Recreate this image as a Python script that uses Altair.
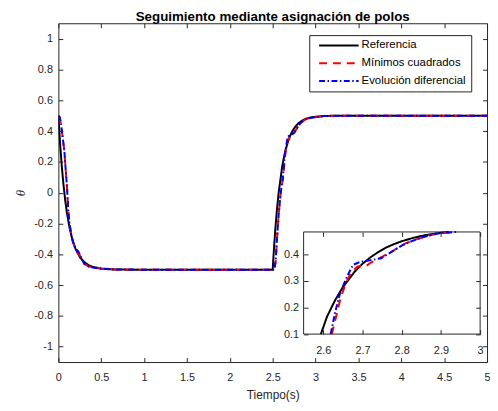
import altair as alt
import pandas as pd

TITLE = "Seguimiento mediante asignación de polos"
names = ["Referencia", "Mínimos cuadrados", "Evolución diferencial"]
colors = ["#000000", "#ff0000", "#0000ff"]
dashes = [[1, 0], [8, 6], [6, 2.5, 1.5, 2.5]]

# Referencia
t_ref = [0, 0.02, 0.04, 0.06, 0.08, 0.1, 0.13, 0.16, 0.2, 0.25, 0.3, 0.35, 0.4, 0.5, 0.6, 0.8, 1.0, 2.5,
         2.51, 2.53, 2.55, 2.57, 2.594, 2.61, 2.63, 2.65, 2.68, 2.7, 2.72, 2.74, 2.76, 2.78, 2.8, 2.83,
         2.86, 2.9, 2.92, 2.95, 3.0, 3.1, 3.3, 5.0]
v_ref = [0.5, 0.319, 0.17, 0.049, -0.051, -0.132, -0.227, -0.298, -0.365, -0.418, -0.45, -0.47, -0.482,
         -0.493, -0.498, -0.5, -0.5, -0.5,
         -0.405, -0.241, -0.107, 0.003, 0.1, 0.167, 0.227, 0.277, 0.335, 0.365, 0.389, 0.409, 0.426,
         0.439, 0.45, 0.463, 0.473, 0.482, 0.485, 0.489, 0.493, 0.498, 0.5, 0.5]

# Mínimos cuadrados
t_ls = [0, 0.015, 0.03, 0.05, 0.07, 0.085, 0.1, 0.115, 0.13, 0.15, 0.17, 0.19, 0.21, 0.23, 0.25, 0.28, 0.3,
        0.35, 0.4, 0.5, 0.7, 1.0, 2.5, 2.52, 2.535, 2.55, 2.57, 2.59, 2.607, 2.622, 2.635, 2.645, 2.66,
        2.672, 2.688, 2.698, 2.709, 2.72, 2.735, 2.752, 2.775, 2.79, 2.811, 2.835, 2.862, 2.88, 2.9,
        2.939, 3.0, 3.1, 3.3, 5.0]
v_ls = [0.5, 0.49, 0.45, 0.36, 0.27, 0.15, 0.04, -0.11, -0.2, -0.27, -0.32, -0.355, -0.38, -0.395, -0.405,
        -0.44, -0.46, -0.478, -0.486, -0.494, -0.499, -0.5, -0.5, -0.5, -0.44, -0.3, -0.14, -0.02, 0.05,
        0.1, 0.18, 0.24, 0.3, 0.335, 0.355, 0.357, 0.356, 0.368, 0.38, 0.393, 0.411, 0.425, 0.443, 0.456,
        0.468, 0.475, 0.481, 0.485, 0.49, 0.497, 0.5, 0.5]

# Evolución diferencial
t_de = [0, 0.015, 0.03, 0.05, 0.07, 0.085, 0.1, 0.115, 0.13, 0.15, 0.17, 0.19, 0.21, 0.23, 0.25, 0.28, 0.3,
        0.35, 0.4, 0.5, 0.7, 1.0, 2.5, 2.52, 2.535, 2.55, 2.57, 2.59, 2.605, 2.619, 2.63, 2.642, 2.653,
        2.663, 2.676, 2.69, 2.701, 2.715, 2.727, 2.748, 2.769, 2.785, 2.803, 2.825, 2.845, 2.865, 2.888,
        2.91, 2.939, 3.0, 3.1, 3.3, 5.0]
v_de = [0.5, 0.49, 0.45, 0.36, 0.27, 0.15, 0.04, -0.11, -0.2, -0.27, -0.32, -0.35, -0.37, -0.38, -0.4,
        -0.44, -0.46, -0.478, -0.486, -0.494, -0.499, -0.5, -0.5, -0.5, -0.44, -0.3, -0.14, -0.02, 0.05,
        0.1, 0.18, 0.249, 0.29, 0.324, 0.361, 0.37, 0.374, 0.377, 0.38, 0.386, 0.405, 0.42, 0.436, 0.45,
        0.461, 0.47, 0.478, 0.482, 0.485, 0.49, 0.497, 0.5, 0.5]

x_ticks = [0, 0.5, 1, 1.5, 2, 2.5, 3, 3.5, 4, 4.5, 5]
y_ticks = [-1, -0.8, -0.6, -0.4, -0.2, 0, 0.2, 0.4, 0.6, 0.8, 1]
x_dom = [0, 5]
y_dom = [-1.1, 1.1]
ix_ticks = [2.6, 2.7, 2.8, 2.9, 3]
iy_ticks = [0.1, 0.2, 0.3, 0.4]
ix_dom = [2.55, 3.0]
iy_dom = [0.1, 0.485]

# layout (pixels)
W, H = 434, 343
IX0, IX1 = 248.3, 427.0
IY0, IY1 = 314.7, 211.3
FONT = "Liberation Sans"
AXC = "#262626"

rows = []
for name, ts, vs in zip(names, [t_ref, t_ls, t_de], [v_ref, v_ls, v_de]):
    for t, v in zip(ts, vs):
        rows.append({"t": t, "v": v, "serie": name})
df = pd.DataFrame(rows)
inset_df = df[(df.t >= ix_dom[0]) & (df.t <= ix_dom[1])
              & (df.v >= iy_dom[0] - 1e-9) & (df.v <= iy_dom[1] + 1e-9)]
box_df = pd.DataFrame({"x": [ix_dom[0]], "x2": [ix_dom[1]], "y": [iy_dom[0]], "y2": [iy_dom[1]]})

xs_main = alt.Scale(domain=x_dom, nice=False, zero=False)
ys_main = alt.Scale(domain=y_dom, nice=False, zero=False)
xs_in = alt.Scale(domain=ix_dom, range=[IX0, IX1], nice=False, zero=False)
ys_in = alt.Scale(domain=iy_dom, range=[IY0, IY1], nice=False, zero=False)

LBL = "toString(datum.value)"
lab = dict(labelFont=FONT, labelFontSize=11, labelColor=AXC, domain=False, grid=False,
           tickSize=0, zindex=1, labelFlush=False, labelOverlap=False, labelExpr=LBL)
tk = dict(labels=False, domain=False, grid=False, tickSize=4.5, tickColor=AXC, tickWidth=1,
          title=None, zindex=1)

leg = alt.Legend(title=None, orient="none", legendX=254, legendY=12, symbolType="stroke",
                 symbolSize=1600, symbolStrokeWidth=2, labelFont=FONT, labelFontSize=11.5,
                 labelColor="#000000", strokeColor=AXC, fillColor="white", padding=5,
                 symbolOffset=4, rowPadding=6, clipHeight=11, labelOffset=2)
color = alt.Color("serie:N", scale=alt.Scale(domain=names, range=colors), legend=leg)
dash = alt.StrokeDash("serie:N", scale=alt.Scale(domain=names, range=dashes), legend=leg)

main_lines = alt.Chart(df).mark_line(strokeWidth=2, clip=True).encode(
    x=alt.X("t:Q", scale=xs_main, axis=alt.Axis(
        orient="bottom", values=x_ticks, labelPadding=10, title="Tiempo(s)", titleFont=FONT,
        titleFontSize=12, titleFontWeight="normal", titleColor=AXC, titleBaseline="alphabetic",
        titleY=37, **lab)),
    y=alt.Y("v:Q", scale=ys_main, axis=alt.Axis(
        orient="left", values=y_ticks, labelPadding=6, title="θ", titleFont="Liberation Serif",
        titleFontStyle="italic", titleFontSize=13, titleFontWeight="normal", titleColor=AXC,
        titleAngle=270, titleX=-38, titleY=H / 2, titleAlign="center", titleBaseline="middle",
        **lab)),
    color=color, strokeDash=dash,
)

main_ticks_a = alt.Chart(box_df).mark_point(opacity=0).encode(
    x=alt.X("x:Q", scale=xs_main, axis=alt.Axis(orient="top", offset=-H, values=x_ticks, **tk)),
    y=alt.Y("y:Q", scale=ys_main, axis=alt.Axis(orient="right", offset=-W, values=y_ticks, **tk)),
)
main_ticks_b = alt.Chart(box_df).mark_point(opacity=0).encode(
    x=alt.X("x:Q", scale=xs_main, axis=alt.Axis(orient="bottom", offset=-H, values=x_ticks, **tk)),
    y=alt.Y("y:Q", scale=ys_main, axis=alt.Axis(orient="left", offset=-W, values=y_ticks, **tk)),
)

inset_box = alt.Chart(box_df).mark_rect(fill="white", stroke=AXC, strokeWidth=1).encode(
    x=alt.X("x:Q", scale=xs_in, axis=alt.Axis(orient="bottom", offset=-(H - IY0), values=ix_ticks,
                                              labelPadding=11, title=None, **lab)),
    x2="x2:Q",
    y=alt.Y("y:Q", scale=ys_in, axis=alt.Axis(orient="left", offset=-IX0, values=iy_ticks,
                                              labelPadding=5, title=None, **lab)),
    y2="y2:Q",
)
inset_lines = alt.Chart(inset_df).mark_line(strokeWidth=2).encode(
    x=alt.X("t:Q", scale=xs_in, axis=None),
    y=alt.Y("v:Q", scale=ys_in, axis=None),
    color=color, strokeDash=dash,
)
inset_ticks_a = alt.Chart(box_df).mark_point(opacity=0).encode(
    x=alt.X("x:Q", scale=xs_in, axis=alt.Axis(orient="top", offset=-IY0, values=ix_ticks, **tk)),
    y=alt.Y("y:Q", scale=ys_in, axis=alt.Axis(orient="right", offset=-(W - IX0), values=iy_ticks, **tk)),
)
inset_ticks_b = alt.Chart(box_df).mark_point(opacity=0).encode(
    x=alt.X("x:Q", scale=xs_in, axis=alt.Axis(orient="bottom", offset=-(H - IY1), values=ix_ticks, **tk)),
    y=alt.Y("y:Q", scale=ys_in, axis=alt.Axis(orient="left", offset=-IX1, values=iy_ticks, **tk)),
)

chart = alt.layer(
    main_lines, main_ticks_a, main_ticks_b, inset_box, inset_lines, inset_ticks_a, inset_ticks_b
).resolve_scale(
    x="independent", y="independent"
).properties(
    width=W, height=H,
    title=alt.TitleParams(TITLE, font=FONT, fontSize=13.5, fontWeight="bold", color="#000000",
                          anchor="middle", frame="group", offset=3, baseline="alphabetic", dy=14.5),
    padding={"left": 51, "top": 13, "right": 3, "bottom": 38},
    autosize=alt.AutoSizeParams(type="none"),
).configure_view(stroke=AXC, strokeWidth=1)

chart.save("out.html", embed_options={"renderer": "svg", "actions": False})
